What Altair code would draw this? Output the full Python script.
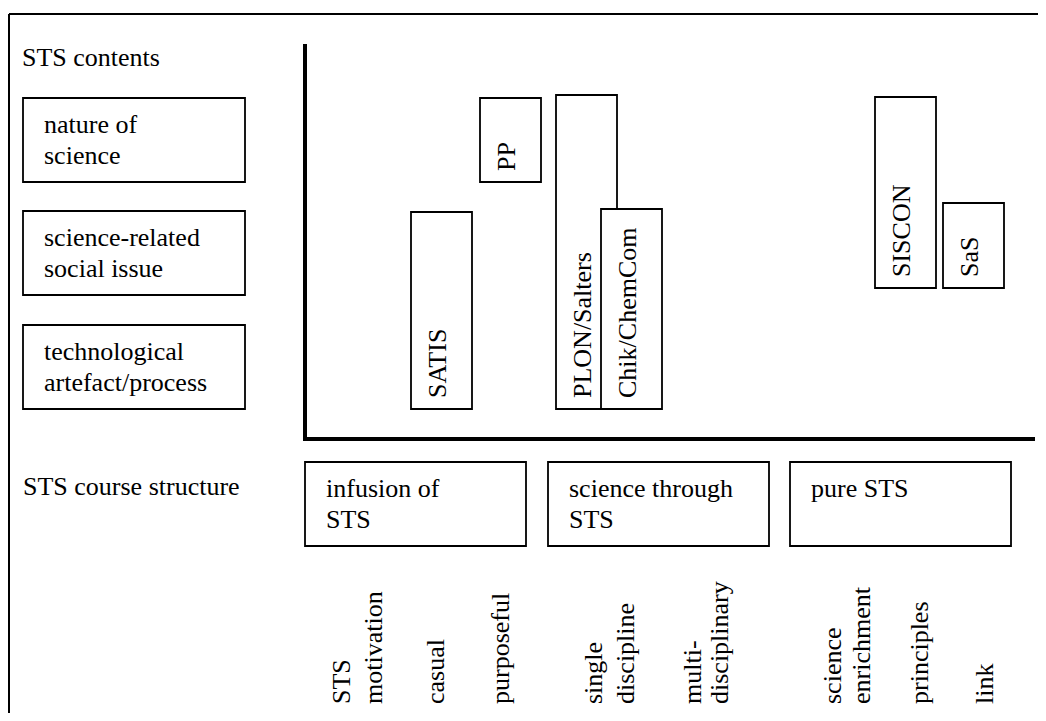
import altair as alt
import pandas as pd

FONT = "'Liberation Serif', 'Times New Roman', Times, 'DejaVu Serif', serif"
FS = 26

# ---- data (diagram units = reference pixels) ----
# headings
headings = ["STS contents", "STS course structure"]
heading_x = [22, 23]
heading_y = [66, 495]

# STS contents category boxes (left)
content_labels = [["nature of", "science"],
                  ["science-related", "social issue"],
                  ["technological", "artefact/process"]]
content_x0 = [23, 23, 23]
content_x1 = [245, 245, 245]
content_y0 = [98, 211, 325]
content_y1 = [182, 295, 409]

# STS course structure boxes (bottom)
structure_labels = [["infusion of", "STS"],
                    ["science through", "STS"],
                    ["pure STS"]]
structure_x0 = [305, 548, 790]
structure_x1 = [526, 769, 1011]
structure_y0 = [462, 462, 462]
structure_y1 = [546, 546, 546]

# curriculum projects (bars)
projects = ["SATIS", "PP", "PLON/Salters", "Chik/ChemCom", "SISCON", "SaS"]
project_x0 = [411, 480, 556, 601, 875, 943]
project_x1 = [472, 541, 617, 662, 936, 1004]
project_top = [212, 98, 95, 209, 97, 203]
project_bottom = [409, 182, 409, 409, 288, 288]

# sub-category labels along the bottom (one entry per text line)
sub_lines = ["STS", "motivation", "casual", "purposeful", "single", "discipline",
             "multi-", "disciplinary", "science", "enrichment", "principles", "link"]
sub_x = [341, 373, 435, 500, 593, 625, 692, 719, 832, 861, 919, 984]
sub_start = 704

# frame and axis lines
line_x0 = [9, 9, 305, 303]
line_x1 = [9, 1046, 305, 1035]
line_y0 = [14, 14, 44, 439]
line_y1 = [721, 14, 441, 439]
line_w = [2, 2, 4, 4]

# ---- tables ----
rects = pd.DataFrame({
    "x0": content_x0 + structure_x0 + project_x0,
    "x1": content_x1 + structure_x1 + project_x1,
    "y0": content_y0 + structure_y0 + project_top,
    "y1": content_y1 + structure_y1 + project_bottom,
})
rects["order"] = range(len(rects))

htext_rows = []
for lines, x0, y0 in zip(content_labels + structure_labels,
                         content_x0 + structure_x0,
                         content_y0 + structure_y0):
    for i, t in enumerate(lines):
        htext_rows.append({"x": x0 + 21, "y": y0 + 35 + 31 * i, "text": t})
for t, x, y in zip(headings, heading_x, heading_y):
    htext_rows.append({"x": x, "y": y, "text": t})
htext = pd.DataFrame(htext_rows)

proj_text = pd.DataFrame({
    "x": [(a + b) / 2 for a, b in zip(project_x0, project_x1)],
    "y": project_bottom,
    "text": projects,
})

sub_text = pd.DataFrame({"x": sub_x, "y": [sub_start] * len(sub_x), "text": sub_lines})

lines_df = pd.DataFrame({"x0": line_x0, "x1": line_x1, "y0": line_y0,
                         "y1": line_y1, "w": line_w})

# ---- scales ----
xs = alt.Scale(domain=[8, 1038], nice=False, zero=False)
ys = alt.Scale(domain=[8, 713], nice=False, zero=False, reverse=True)

X = lambda f: alt.X(f, type="quantitative", scale=xs, axis=None)
Y = lambda f: alt.Y(f, type="quantitative", scale=ys, axis=None)

rect_layer = alt.Chart(rects).mark_rect(
    fill="white", stroke="black", strokeWidth=1.8
).encode(
    x=X("x0"), x2="x1", y=Y("y0"), y2="y1",
    order=alt.Order("order:Q")
)

rule_layer = alt.Chart(lines_df).mark_rule(color="black").encode(
    x=X("x0"), x2="x1", y=Y("y0"), y2="y1",
    strokeWidth=alt.StrokeWidth("w:Q", scale=None)
)

htext_layer = alt.Chart(htext).mark_text(
    align="left", baseline="alphabetic", font=FONT, fontSize=FS, color="black"
).encode(x=X("x"), y=Y("y"), text="text:N")

proj_layer = alt.Chart(proj_text).mark_text(
    align="left", baseline="middle", angle=270, dx=11, dy=-4,
    font=FONT, fontSize=FS, color="black"
).encode(x=X("x"), y=Y("y"), text="text:N")

sub_layer = alt.Chart(sub_text).mark_text(
    align="left", baseline="middle", angle=270, dy=1,
    font=FONT, fontSize=FS, color="black"
).encode(x=X("x"), y=Y("y"), text="text:N")

chart = alt.layer(
    rule_layer, rect_layer, htext_layer, proj_layer, sub_layer
).properties(
    width=1030, height=705, padding=0,
    autosize=alt.AutoSizeParams(type="none"),
    background="white"
).configure_view(stroke=None)

chart.save("out.html", embed_options={"renderer": "svg", "actions": False})
